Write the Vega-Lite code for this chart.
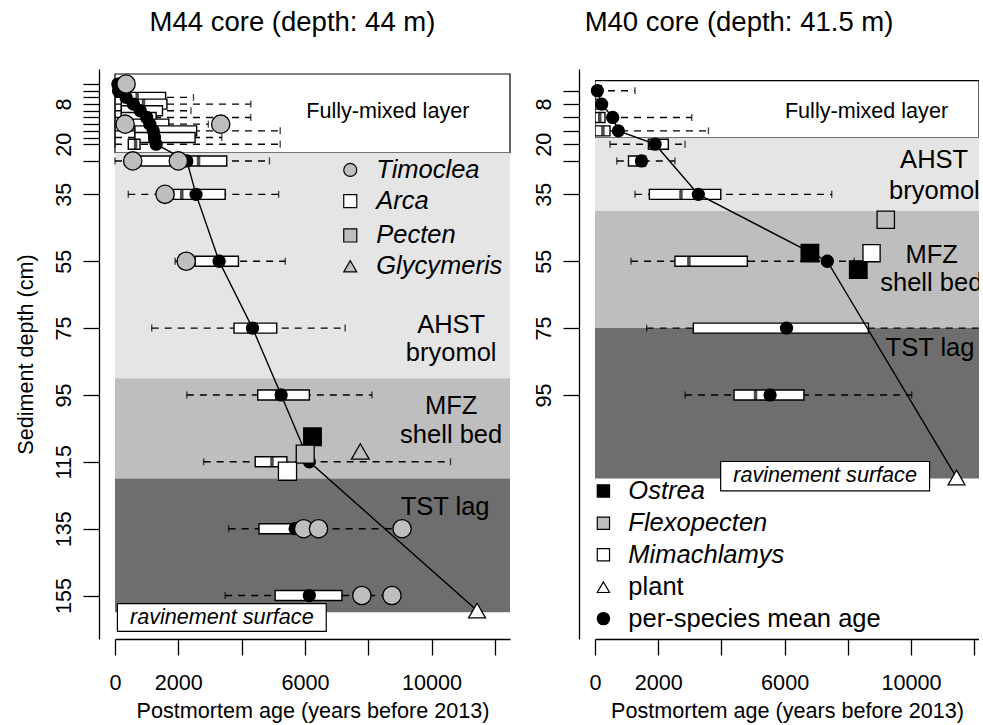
{
  "$schema": "https://vega.github.io/schema/vega-lite/v6.json",
  "padding": {"left": 14, "top": 8, "right": 0, "bottom": 0},
  "background": "white",
  "bounds": "flush",
  "spacing": 85,
  "resolve": {"scale": {"x": "independent", "y": "independent"}},
  "config": {
    "font": "Liberation Sans",
    "view": {"stroke": null},
    "axis": {"grid": false, "domainColor": "black", "tickColor": "black", "labelColor": "black", "titleColor": "black", "labelFont": "Liberation Sans", "titleFont": "Liberation Sans", "labelFontSize": 21.6, "titleFontSize": 21.6, "titleFontWeight": "normal", "tickSize": 16, "domainWidth": 1.3, "tickWidth": 1.3, "labelFlush": false, "labelOverlap": false},
    "title": {"font": "Liberation Sans", "fontSize": 27.5, "fontWeight": "normal", "color": "black"}
  },
  "datasets": {
    "bands": [
      {"panel": "M44", "zone": "mixed", "top": -1, "bottom": 22.5},
      {"panel": "M44", "zone": "AHST", "top": 22.5, "bottom": 90},
      {"panel": "M44", "zone": "MFZ", "top": 90, "bottom": 120},
      {"panel": "M44", "zone": "TST", "top": 120, "bottom": 160},
      {"panel": "M40", "zone": "mixed", "top": 1, "bottom": 18},
      {"panel": "M40", "zone": "AHST", "top": 18, "bottom": 40},
      {"panel": "M40", "zone": "MFZ", "top": 40, "bottom": 75},
      {"panel": "M40", "zone": "TST", "top": 75, "bottom": 120}
    ],
    "boxes": [
      {"panel": "M44", "depth": 2, "q1": 0, "med": 150, "q3": 300, "lo": 0, "hi": 300, "mean": 90},
      {"panel": "M44", "depth": 4, "q1": 0, "med": 100, "q3": 250, "lo": 0, "hi": 250, "mean": 110},
      {"panel": "M44", "depth": 6, "q1": 250, "med": 700, "q3": 1600, "lo": 0, "hi": 2480, "mean": 350},
      {"panel": "M44", "depth": 8, "q1": 200, "med": 900, "q3": 1640, "lo": 0, "hi": 4290, "mean": 580},
      {"panel": "M44", "depth": 10, "q1": 200, "med": 800, "q3": 1500, "lo": 0, "hi": 2400, "mean": 800},
      {"panel": "M44", "depth": 12, "q1": 200, "med": 900, "q3": 1300, "lo": 0, "hi": 4290, "mean": 1000},
      {"panel": "M44", "depth": 14, "q1": 300, "med": 1000, "q3": 1700, "lo": 0, "hi": 2950, "mean": 1100},
      {"panel": "M44", "depth": 16, "q1": 630, "med": 1200, "q3": 2580, "lo": 0, "hi": 5220, "mean": 1210},
      {"panel": "M44", "depth": 18, "q1": 630, "med": 1100, "q3": 2530, "lo": 0, "hi": 3375, "mean": 1250},
      {"panel": "M44", "depth": 20, "q1": 420, "med": 650, "q3": 790, "lo": 0, "hi": 5220, "mean": 1300},
      {"panel": "M44", "depth": 25, "q1": 790, "med": 2640, "q3": 3530, "lo": 0, "hi": 4880, "mean": 2270},
      {"panel": "M44", "depth": 35, "q1": 1850, "med": 2110, "q3": 3480, "lo": 420, "hi": 5170, "mean": 2560},
      {"panel": "M44", "depth": 55, "q1": 2530, "med": 3290, "q3": 3900, "lo": 1900, "hi": 5380, "mean": 3290},
      {"panel": "M44", "depth": 75, "q1": 3760, "med": 4220, "q3": 5110, "lo": 1160, "hi": 7270, "mean": 4345},
      {"panel": "M44", "depth": 95, "q1": 4510, "med": 5110, "q3": 6140, "lo": 2270, "hi": 8120, "mean": 5250},
      {"panel": "M44", "depth": 115, "q1": 4430, "med": 4960, "q3": 5430, "lo": 2800, "hi": 10600, "mean": 6140},
      {"panel": "M44", "depth": 135, "q1": 4550, "med": 5600, "q3": 5750, "lo": 3590, "hi": 8900, "mean": 5690},
      {"panel": "M44", "depth": 155, "q1": 5060, "med": 6140, "q3": 7170, "lo": 3480, "hi": 8750, "mean": 6140},
      {"panel": "M40", "depth": 4, "q1": 0, "med": 50, "q3": 200, "lo": 0, "hi": 1265, "mean": 75},
      {"panel": "M40", "depth": 8, "q1": 0, "med": 150, "q3": 300, "lo": 0, "hi": 300, "mean": 210},
      {"panel": "M40", "depth": 12, "q1": 0, "med": 150, "q3": 316, "lo": 0, "hi": 3060, "mean": 560},
      {"panel": "M40", "depth": 16, "q1": 0, "med": 250, "q3": 475, "lo": 0, "hi": 3590, "mean": 740},
      {"panel": "M40", "depth": 20, "q1": 1690, "med": 1800, "q3": 2320, "lo": 475, "hi": 2850, "mean": 1900},
      {"panel": "M40", "depth": 25, "q1": 1060, "med": 1350, "q3": 1600, "lo": 690, "hi": 2530, "mean": 1470},
      {"panel": "M40", "depth": 35, "q1": 1720, "med": 2720, "q3": 3980, "lo": 1265, "hi": 7490, "mean": 3270},
      {"panel": "M40", "depth": 55, "q1": 2530, "med": 2970, "q3": 4820, "lo": 1140, "hi": 8200, "mean": 7350},
      {"panel": "M40", "depth": 75, "q1": 3110, "med": 6060, "q3": 8650, "lo": 1635, "hi": 12800, "mean": 6060},
      {"panel": "M40", "depth": 95, "q1": 4400, "med": 5080, "q3": 6610, "lo": 2850, "hi": 10020, "mean": 5540}
    ],
    "agedepth": [
      {"panel": "M44", "depth": 2, "age": 90},
      {"panel": "M44", "depth": 4, "age": 110},
      {"panel": "M44", "depth": 6, "age": 350},
      {"panel": "M44", "depth": 8, "age": 580},
      {"panel": "M44", "depth": 10, "age": 800},
      {"panel": "M44", "depth": 12, "age": 1000},
      {"panel": "M44", "depth": 14, "age": 1100},
      {"panel": "M44", "depth": 16, "age": 1210},
      {"panel": "M44", "depth": 18, "age": 1250},
      {"panel": "M44", "depth": 20, "age": 1300},
      {"panel": "M44", "depth": 25, "age": 2270},
      {"panel": "M44", "depth": 35, "age": 2560},
      {"panel": "M44", "depth": 55, "age": 3290},
      {"panel": "M44", "depth": 75, "age": 4345},
      {"panel": "M44", "depth": 95, "age": 5250},
      {"panel": "M44", "depth": 115, "age": 6140},
      {"panel": "M44", "depth": 159.5, "age": 11440},
      {"panel": "M40", "depth": 4, "age": 75},
      {"panel": "M40", "depth": 8, "age": 210},
      {"panel": "M40", "depth": 12, "age": 560},
      {"panel": "M40", "depth": 16, "age": 740},
      {"panel": "M40", "depth": 20, "age": 1900},
      {"panel": "M40", "depth": 35, "age": 3270},
      {"panel": "M40", "depth": 55, "age": 7350},
      {"panel": "M40", "depth": 119.7, "age": 11440}
    ],
    "pts": [
      {"panel": "M44", "kind": "Timoclea", "depth": 2, "age": 350},
      {"panel": "M44", "kind": "Timoclea", "depth": 14, "age": 320},
      {"panel": "M44", "kind": "Timoclea", "depth": 14, "age": 3340},
      {"panel": "M44", "kind": "Timoclea", "depth": 25, "age": 560},
      {"panel": "M44", "kind": "Timoclea", "depth": 25, "age": 2000},
      {"panel": "M44", "kind": "Timoclea", "depth": 35, "age": 1580},
      {"panel": "M44", "kind": "Timoclea", "depth": 55, "age": 2250},
      {"panel": "M44", "kind": "Timoclea", "depth": 135, "age": 5960},
      {"panel": "M44", "kind": "Timoclea", "depth": 135, "age": 6430},
      {"panel": "M44", "kind": "Timoclea", "depth": 135, "age": 9070},
      {"panel": "M44", "kind": "Timoclea", "depth": 155, "age": 7800},
      {"panel": "M44", "kind": "Timoclea", "depth": 155, "age": 8750},
      {"panel": "M44", "kind": "Ostrea", "depth": 107.5, "age": 6240},
      {"panel": "M44", "kind": "Pecten", "depth": 112.7, "age": 6010},
      {"panel": "M44", "kind": "Arca", "depth": 117.8, "age": 5450},
      {"panel": "M44", "kind": "Glycymeris", "depth": 111.9, "age": 7750},
      {"panel": "M44", "kind": "plant", "depth": 159.5, "age": 11440},
      {"panel": "M40", "kind": "Flexopecten", "depth": 42.6, "age": 9200},
      {"panel": "M40", "kind": "Ostrea", "depth": 52.6, "age": 6800},
      {"panel": "M40", "kind": "Ostrea", "depth": 57.5, "age": 8330},
      {"panel": "M40", "kind": "Mimachlamys", "depth": 52.6, "age": 8750},
      {"panel": "M40", "kind": "plant", "depth": 119.7, "age": 11440}
    ],
    "zonelabels": [
      {"panel": "M44", "text": "Fully-mixed layer", "age": 8620, "depth": 10.5},
      {"panel": "M44", "text": "AHST", "age": 10620, "depth": 74.2},
      {"panel": "M44", "text": "bryomol", "age": 10620, "depth": 82.5},
      {"panel": "M44", "text": "MFZ", "age": 10620, "depth": 98.2},
      {"panel": "M44", "text": "shell bed", "age": 10620, "depth": 107},
      {"panel": "M44", "text": "TST lag", "age": 10430, "depth": 128.5},
      {"panel": "M40", "text": "Fully-mixed layer", "age": 8590, "depth": 10.5},
      {"panel": "M40", "text": "AHST", "age": 10730, "depth": 24.7},
      {"panel": "M40", "text": "bryomol", "age": 10740, "depth": 34},
      {"panel": "M40", "text": "MFZ", "age": 10650, "depth": 53.1},
      {"panel": "M40", "text": "shell bed", "age": 10640, "depth": 61.4},
      {"panel": "M40", "text": "TST lag", "age": 10600, "depth": 81}
    ],
    "legend": [
      {"panel": "M44", "kind": "Timoclea", "label": "Timoclea", "depth": 27.7, "symage": 7433, "textage": 8255},
      {"panel": "M44", "kind": "Arca", "label": "Arca", "depth": 37, "symage": 7433, "textage": 8255},
      {"panel": "M44", "kind": "Pecten", "label": "Pecten", "depth": 47.3, "symage": 7433, "textage": 8255},
      {"panel": "M44", "kind": "Glycymeris", "label": "Glycymeris", "depth": 56.5, "symage": 7433, "textage": 8255},
      {"panel": "M40", "kind": "Ostrea", "label": "Ostrea", "depth": 123.7, "symage": 266, "textage": 1056},
      {"panel": "M40", "kind": "Flexopecten", "label": "Flexopecten", "depth": 133.4, "symage": 266, "textage": 1056},
      {"panel": "M40", "kind": "Mimachlamys", "label": "Mimachlamys", "depth": 142.8, "symage": 266, "textage": 1056},
      {"panel": "M40", "kind": "plant", "label": "plant", "depth": 152.5, "symage": 266, "textage": 1056},
      {"panel": "M40", "kind": "mean", "label": "per-species mean age", "depth": 161.9, "symage": 266, "textage": 1056}
    ],
    "rav": [
      {"panel": "M44", "a1": 76, "a2": 6674, "d1": 157.4, "d2": 165.7, "ta": 3375, "td": 161.6, "text": "ravinement surface"},
      {"panel": "M40", "a1": 3976, "a2": 10586, "d1": 114.9, "d2": 123.7, "ta": 7280, "td": 119.3, "text": "ravinement surface"}
    ]
  },
  "hconcat": [
    {
      "width": 395,
      "height": 570,
      "title": {"text": "M44 core (depth: 44 m)", "baseline": "alphabetic", "offset": 11, "dx": -20},
      "layer": [
        {
          "data": {"name": "bands"},
          "transform": [{"filter": "datum.panel == 'M44'"}],
          "mark": {"type": "rect", "strokeWidth": 1.2},
          "encoding": {
            "x": {"value": 0},
            "x2": {"value": "width"},
            "y": {"field": "top", "type": "quantitative", "scale": {"domain": [-1, 166.5], "reverse": true, "nice": false, "zero": false},
              "axis": {"title": "Sediment depth (cm)", "values": [2, 4, 6, 8, 10, 12, 14, 16, 18, 20, 25, 35, 55, 75, 95, 115, 135, 155], "tickCount": 60, "labelExpr": "indexof([8, 20, 35, 55, 75, 95, 115, 135, 155], datum.value) >= 0 ? datum.label : ''", "labelAngle": 270, "labelAlign": "center", "labelBaseline": "bottom", "labelPadding": 8, "offset": 16, "titlePadding": 16, "labelOverlap": false}},
            "y2": {"field": "bottom"},
            "color": {"field": "zone", "type": "nominal", "scale": {"domain": ["mixed", "AHST", "MFZ", "TST"], "range": ["#ffffff", "#e5e5e5", "#bebebe", "#6e6e6e"]}, "legend": null},
            "stroke": {"condition": {"test": "datum.zone == 'mixed'", "value": "black"}, "value": "transparent"}
          }
        },
        {
          "data": {"name": "boxes"},
          "transform": [{"filter": "datum.panel == 'M44'"}],
          "mark": {"type": "rule", "strokeDash": [7, 6], "strokeWidth": 1.4, "color": "black"},
          "encoding": {
            "x": {"field": "lo", "type": "quantitative", "scale": {"domain": [0, 12480], "nice": false, "zero": false},
              "axis": {"title": "Postmortem age (years before 2013)", "values": [0, 2000, 4000, 6000, 8000, 10000, 12000], "format": "d", "labelExpr": "indexof([0, 2000, 6000, 10000], datum.value) >= 0 ? datum.label : ''", "labelPadding": 17, "titlePadding": 7}},
            "x2": {"field": "hi"},
            "y": {"field": "depth", "type": "quantitative"}
          }
        },
        {
          "data": {"name": "boxes"},
          "transform": [{"filter": "datum.panel == 'M44'"}],
          "mark": {"type": "tick", "orient": "vertical", "size": 7, "thickness": 1.4, "color": "black"},
          "encoding": {"x": {"field": "lo", "type": "quantitative"}, "y": {"field": "depth", "type": "quantitative"}}
        },
        {
          "data": {"name": "boxes"},
          "transform": [{"filter": "datum.panel == 'M44'"}],
          "mark": {"type": "tick", "orient": "vertical", "size": 7, "thickness": 1.4, "color": "black"},
          "encoding": {"x": {"field": "hi", "type": "quantitative"}, "y": {"field": "depth", "type": "quantitative"}}
        },
        {
          "data": {"name": "boxes"},
          "transform": [{"filter": "datum.panel == 'M44'"}],
          "mark": {"type": "bar", "orient": "horizontal", "size": 10, "fill": "white", "stroke": "black", "strokeWidth": 1.4},
          "encoding": {"x": {"field": "q1", "type": "quantitative"}, "x2": {"field": "q3"}, "y": {"field": "depth", "type": "quantitative"}}
        },
        {
          "data": {"name": "boxes"},
          "transform": [{"filter": "datum.panel == 'M44'"}],
          "mark": {"type": "tick", "orient": "vertical", "size": 10, "thickness": 3.5, "color": "black"},
          "encoding": {"x": {"field": "med", "type": "quantitative"}, "y": {"field": "depth", "type": "quantitative"}}
        },
        {
          "data": {"name": "agedepth"},
          "transform": [{"filter": "datum.panel == 'M44'"}],
          "mark": {"type": "line", "color": "black", "strokeWidth": 1.4},
          "encoding": {"x": {"field": "age", "type": "quantitative"}, "y": {"field": "depth", "type": "quantitative"}, "order": {"field": "depth", "type": "quantitative"}}
        },
        {
          "data": {"name": "boxes"},
          "transform": [{"filter": "datum.panel == 'M44'"}],
          "mark": {"type": "circle", "size": 177, "color": "black", "opacity": 1},
          "encoding": {"x": {"field": "mean", "type": "quantitative"}, "y": {"field": "depth", "type": "quantitative"}}
        },
        {
          "data": {"name": "pts"},
          "transform": [{"filter": "datum.panel == 'M44'"}],
          "mark": {"type": "point", "filled": true, "stroke": "black", "strokeWidth": 1.3, "opacity": 1},
          "encoding": {
            "x": {"field": "age", "type": "quantitative"},
            "y": {"field": "depth", "type": "quantitative"},
            "shape": {"field": "kind", "type": "nominal", "scale": {"domain": ["Timoclea", "Arca", "Pecten", "Glycymeris", "Ostrea", "Flexopecten", "Mimachlamys", "plant", "mean"], "range": ["circle", "square", "square", "triangle-up", "square", "square", "square", "triangle-up", "circle"]}, "legend": null},
            "fill": {"field": "kind", "type": "nominal", "scale": {"domain": ["Timoclea", "Arca", "Pecten", "Glycymeris", "Ostrea", "Flexopecten", "Mimachlamys", "plant", "mean"], "range": ["#bebebe", "#ffffff", "#bebebe", "#bebebe", "#000000", "#bebebe", "#ffffff", "#ffffff", "#000000"]}, "legend": null},
            "size": {"field": "kind", "type": "nominal", "scale": {"domain": ["Timoclea", "Arca", "Pecten", "Glycymeris", "Ostrea", "Flexopecten", "Mimachlamys", "plant", "mean"], "range": [335, 280, 280, 500, 280, 280, 280, 520, 177]}, "legend": null}
          }
        },
        {
          "data": {"name": "zonelabels"},
          "transform": [{"filter": "datum.panel == 'M44' && datum.text != 'Fully-mixed layer'"}],
          "mark": {"type": "text", "fontSize": 25.5, "align": "center", "baseline": "middle", "color": "black"},
          "encoding": {"x": {"field": "age", "type": "quantitative"}, "y": {"field": "depth", "type": "quantitative"}, "text": {"field": "text"}}
        },
        {
          "data": {"name": "zonelabels"},
          "transform": [{"filter": "datum.panel == 'M44' && datum.text == 'Fully-mixed layer'"}],
          "mark": {"type": "text", "fontSize": 21.6, "align": "center", "baseline": "middle", "color": "black"},
          "encoding": {"x": {"field": "age", "type": "quantitative"}, "y": {"field": "depth", "type": "quantitative"}, "text": {"field": "text"}}
        },
        {
          "data": {"name": "legend"},
          "transform": [{"filter": "datum.panel == 'M44'"}],
          "mark": {"type": "point", "filled": true, "stroke": "black", "strokeWidth": 1.2, "opacity": 1},
          "encoding": {
            "x": {"field": "symage", "type": "quantitative"},
            "y": {"field": "depth", "type": "quantitative"},
            "shape": {"field": "kind", "type": "nominal", "legend": null},
            "fill": {"field": "kind", "type": "nominal", "legend": null},
            "size": {"value": 170}
          }
        },
        {
          "data": {"name": "legend"},
          "transform": [{"filter": "datum.panel == 'M44'"}],
          "mark": {"type": "text", "fontSize": 25.5, "fontStyle": "italic", "align": "left", "baseline": "middle", "color": "black"},
          "encoding": {"x": {"field": "textage", "type": "quantitative"}, "y": {"field": "depth", "type": "quantitative"}, "text": {"field": "label"}}
        },
        {
          "data": {"name": "rav"},
          "transform": [{"filter": "datum.panel == 'M44'"}],
          "mark": {"type": "rect", "fill": "white", "stroke": "black", "strokeWidth": 1.2},
          "encoding": {"x": {"field": "a1", "type": "quantitative"}, "x2": {"field": "a2"}, "y": {"field": "d1", "type": "quantitative"}, "y2": {"field": "d2"}}
        },
        {
          "data": {"name": "rav"},
          "transform": [{"filter": "datum.panel == 'M44'"}],
          "mark": {"type": "text", "fontSize": 21.6, "fontStyle": "italic", "align": "center", "baseline": "middle", "color": "black"},
          "encoding": {"x": {"field": "ta", "type": "quantitative"}, "y": {"field": "td", "type": "quantitative"}, "text": {"field": "text"}}
        }
      ]
    },
    {
      "width": 384,
      "height": 570,
      "title": {"text": "M40 core (depth: 41.5 m)", "baseline": "alphabetic", "offset": 11, "dx": -48},
      "layer": [
        {
          "data": {"name": "bands"},
          "transform": [{"filter": "datum.panel == 'M40'"}],
          "mark": {"type": "rect", "strokeWidth": 1.2, "clip": true},
          "encoding": {
            "x": {"value": 0},
            "x2": {"value": "width"},
            "y": {"field": "top", "type": "quantitative", "scale": {"domain": [-1, 166.5], "reverse": true, "nice": false, "zero": false},
              "axis": {"title": null, "values": [4, 8, 12, 16, 20, 25, 35, 55, 75, 95], "tickCount": 60, "labelExpr": "indexof([8, 20, 35, 55, 75, 95], datum.value) >= 0 ? datum.label : ''", "labelAngle": 270, "labelAlign": "center", "labelBaseline": "bottom", "labelPadding": 8, "offset": 16, "labelOverlap": false}},
            "y2": {"field": "bottom"},
            "color": {"field": "zone", "type": "nominal", "scale": {"domain": ["mixed", "AHST", "MFZ", "TST"], "range": ["#ffffff", "#e5e5e5", "#bebebe", "#6e6e6e"]}, "legend": null},
            "stroke": {"condition": {"test": "datum.zone == 'mixed'", "value": "black"}, "value": "transparent"}
          }
        },
        {
          "data": {"name": "boxes"},
          "transform": [{"filter": "datum.panel == 'M40'"}],
          "mark": {"type": "rule", "strokeDash": [7, 6], "strokeWidth": 1.4, "color": "black", "clip": true},
          "encoding": {
            "x": {"field": "lo", "type": "quantitative", "scale": {"domain": [0, 12150], "nice": false, "zero": false},
              "axis": {"title": "Postmortem age (years before 2013)", "values": [0, 2000, 4000, 6000, 8000, 10000, 12000], "format": "d", "labelExpr": "indexof([0, 2000, 6000, 10000], datum.value) >= 0 ? datum.label : ''", "labelPadding": 17, "titlePadding": 7}},
            "x2": {"field": "hi"},
            "y": {"field": "depth", "type": "quantitative"}
          }
        },
        {
          "data": {"name": "boxes"},
          "transform": [{"filter": "datum.panel == 'M40'"}],
          "mark": {"type": "tick", "orient": "vertical", "size": 7, "thickness": 1.4, "color": "black", "clip": true},
          "encoding": {"x": {"field": "lo", "type": "quantitative"}, "y": {"field": "depth", "type": "quantitative"}}
        },
        {
          "data": {"name": "boxes"},
          "transform": [{"filter": "datum.panel == 'M40'"}],
          "mark": {"type": "tick", "orient": "vertical", "size": 7, "thickness": 1.4, "color": "black", "clip": true},
          "encoding": {"x": {"field": "hi", "type": "quantitative"}, "y": {"field": "depth", "type": "quantitative"}}
        },
        {
          "data": {"name": "boxes"},
          "transform": [{"filter": "datum.panel == 'M40'"}],
          "mark": {"type": "bar", "orient": "horizontal", "size": 10, "fill": "white", "stroke": "black", "strokeWidth": 1.4, "clip": true},
          "encoding": {"x": {"field": "q1", "type": "quantitative"}, "x2": {"field": "q3"}, "y": {"field": "depth", "type": "quantitative"}}
        },
        {
          "data": {"name": "boxes"},
          "transform": [{"filter": "datum.panel == 'M40'"}],
          "mark": {"type": "tick", "orient": "vertical", "size": 10, "thickness": 3.5, "color": "black"},
          "encoding": {"x": {"field": "med", "type": "quantitative"}, "y": {"field": "depth", "type": "quantitative"}}
        },
        {
          "data": {"name": "agedepth"},
          "transform": [{"filter": "datum.panel == 'M40'"}],
          "mark": {"type": "line", "color": "black", "strokeWidth": 1.4},
          "encoding": {"x": {"field": "age", "type": "quantitative"}, "y": {"field": "depth", "type": "quantitative"}, "order": {"field": "depth", "type": "quantitative"}}
        },
        {
          "data": {"name": "boxes"},
          "transform": [{"filter": "datum.panel == 'M40'"}],
          "mark": {"type": "circle", "size": 177, "color": "black", "opacity": 1},
          "encoding": {"x": {"field": "mean", "type": "quantitative"}, "y": {"field": "depth", "type": "quantitative"}}
        },
        {
          "data": {"name": "pts"},
          "transform": [{"filter": "datum.panel == 'M40'"}],
          "mark": {"type": "point", "filled": true, "stroke": "black", "strokeWidth": 1.3, "opacity": 1},
          "encoding": {
            "x": {"field": "age", "type": "quantitative"},
            "y": {"field": "depth", "type": "quantitative"},
            "shape": {"field": "kind", "type": "nominal", "scale": {"domain": ["Timoclea", "Arca", "Pecten", "Glycymeris", "Ostrea", "Flexopecten", "Mimachlamys", "plant", "mean"], "range": ["circle", "square", "square", "triangle-up", "square", "square", "square", "triangle-up", "circle"]}, "legend": null},
            "fill": {"field": "kind", "type": "nominal", "scale": {"domain": ["Timoclea", "Arca", "Pecten", "Glycymeris", "Ostrea", "Flexopecten", "Mimachlamys", "plant", "mean"], "range": ["#bebebe", "#ffffff", "#bebebe", "#bebebe", "#000000", "#bebebe", "#ffffff", "#ffffff", "#000000"]}, "legend": null},
            "size": {"field": "kind", "type": "nominal", "scale": {"domain": ["Timoclea", "Arca", "Pecten", "Glycymeris", "Ostrea", "Flexopecten", "Mimachlamys", "plant", "mean"], "range": [335, 280, 280, 500, 280, 280, 280, 520, 177]}, "legend": null}
          }
        },
        {
          "data": {"name": "zonelabels"},
          "transform": [{"filter": "datum.panel == 'M40' && datum.text != 'Fully-mixed layer'"}],
          "mark": {"type": "text", "fontSize": 25.5, "align": "center", "baseline": "middle", "color": "black", "clip": true},
          "encoding": {"x": {"field": "age", "type": "quantitative"}, "y": {"field": "depth", "type": "quantitative"}, "text": {"field": "text"}}
        },
        {
          "data": {"name": "zonelabels"},
          "transform": [{"filter": "datum.panel == 'M40' && datum.text == 'Fully-mixed layer'"}],
          "mark": {"type": "text", "fontSize": 21.6, "align": "center", "baseline": "middle", "color": "black", "clip": true},
          "encoding": {"x": {"field": "age", "type": "quantitative"}, "y": {"field": "depth", "type": "quantitative"}, "text": {"field": "text"}}
        },
        {
          "data": {"name": "legend"},
          "transform": [{"filter": "datum.panel == 'M40'"}],
          "mark": {"type": "point", "filled": true, "stroke": "black", "strokeWidth": 1.2, "opacity": 1},
          "encoding": {
            "x": {"field": "symage", "type": "quantitative"},
            "y": {"field": "depth", "type": "quantitative"},
            "shape": {"field": "kind", "type": "nominal", "legend": null},
            "fill": {"field": "kind", "type": "nominal", "legend": null},
            "size": {"value": 150}
          }
        },
        {
          "data": {"name": "legend"},
          "transform": [{"filter": "datum.panel == 'M40' && datum.kind != 'plant' && datum.kind != 'mean'"}],
          "mark": {"type": "text", "fontSize": 25.5, "fontStyle": "italic", "align": "left", "baseline": "middle", "color": "black"},
          "encoding": {"x": {"field": "textage", "type": "quantitative"}, "y": {"field": "depth", "type": "quantitative"}, "text": {"field": "label"}}
        },
        {
          "data": {"name": "legend"},
          "transform": [{"filter": "datum.panel == 'M40' && (datum.kind == 'plant' || datum.kind == 'mean')"}],
          "mark": {"type": "text", "fontSize": 25.5, "align": "left", "baseline": "middle", "color": "black"},
          "encoding": {"x": {"field": "textage", "type": "quantitative"}, "y": {"field": "depth", "type": "quantitative"}, "text": {"field": "label"}}
        },
        {
          "data": {"name": "rav"},
          "transform": [{"filter": "datum.panel == 'M40'"}],
          "mark": {"type": "rect", "fill": "white", "stroke": "black", "strokeWidth": 1.2},
          "encoding": {"x": {"field": "a1", "type": "quantitative"}, "x2": {"field": "a2"}, "y": {"field": "d1", "type": "quantitative"}, "y2": {"field": "d2"}}
        },
        {
          "data": {"name": "rav"},
          "transform": [{"filter": "datum.panel == 'M40'"}],
          "mark": {"type": "text", "fontSize": 21.6, "fontStyle": "italic", "align": "center", "baseline": "middle", "color": "black"},
          "encoding": {"x": {"field": "ta", "type": "quantitative"}, "y": {"field": "td", "type": "quantitative"}, "text": {"field": "text"}}
        }
      ]
    }
  ]
}
